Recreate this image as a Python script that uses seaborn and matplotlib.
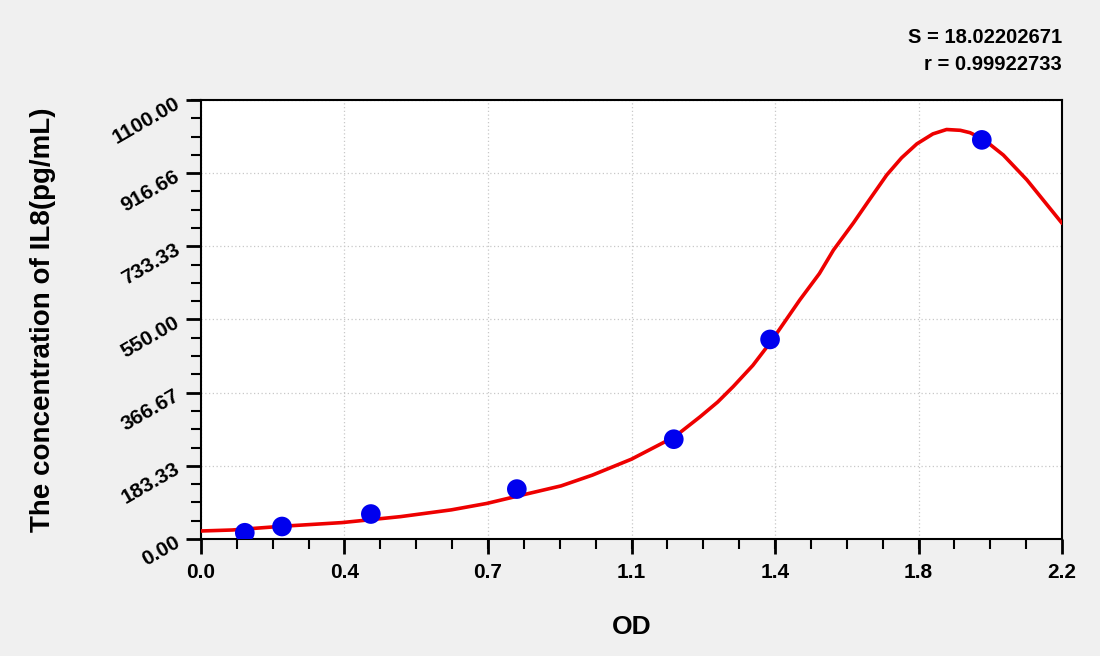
import pandas as pd
import matplotlib
matplotlib.use('Agg')
import matplotlib.pyplot as plt
from matplotlib.ticker import AutoMinorLocator
import seaborn as sns

# Standard points
od = [0.112, 0.207, 0.434, 0.807, 1.208, 1.454, 1.995]
conc = [15.6, 31.25, 62.5, 125.0, 250.0, 500.0, 1000.0]

# fitted curve
curve_od = [0.0, 0.08, 0.21, 0.36, 0.51, 0.64, 0.73, 0.82, 0.92, 1.0, 1.1,
            1.21, 1.275, 1.32, 1.36, 1.41, 1.456, 1.53, 1.58, 1.616, 1.667,
            1.705, 1.752, 1.79, 1.829, 1.87, 1.905, 1.94, 1.965, 2.0, 2.05,
            2.11, 2.2]
curve_conc = [20, 22.5, 32, 41, 56, 73, 89, 110, 133, 160, 200,
              256, 306, 343, 382, 435, 494, 599, 665, 724, 792,
              846, 912, 955, 990, 1015, 1026, 1024, 1018, 1001, 962,
              900, 791]

x_ticks = [0.0, 0.3667, 0.7333, 1.1, 1.4667, 1.8333, 2.2]
x_labels = ['0.0', '0.4', '0.7', '1.1', '1.4', '1.8', '2.2']
y_ticks = [0.0, 183.33, 366.67, 550.0, 733.33, 916.66, 1100.0]
y_labels = ['0.00', '183.33', '366.67', '550.00', '733.33', '916.66', '1100.00']

s_text = 'S = 18.02202671'
r_text = 'r = 0.99922733'

sns.set_style('white')
plt.rcParams['font.family'] = ['Liberation Sans', 'DejaVu Sans']
plt.rcParams['font.weight'] = 'bold'
plt.rcParams['text.color'] = 'black'
plt.rcParams['axes.labelcolor'] = 'black'
plt.rcParams['xtick.color'] = 'black'
plt.rcParams['ytick.color'] = 'black'

df = pd.DataFrame({'OD': od, 'conc': conc})
fit = pd.DataFrame({'OD': curve_od, 'conc': curve_conc})

fig = plt.figure(figsize=(11, 6.56), dpi=100, facecolor='#f0f0f0')
ax = fig.add_axes([0.1827, 0.1784, 0.7828, 0.6692])
ax.set_facecolor('white')

sns.lineplot(data=fit, x='OD', y='conc', ax=ax, color='#ee0000', lw=2.6,
             sort=False, estimator=None, zorder=3)
sns.scatterplot(data=df, x='OD', y='conc', ax=ax, color='#0000ee', s=200,
                edgecolor='none', zorder=4)

ax.set_xlim(0, 2.2)
ax.set_ylim(0, 1100)
ax.set_xticks(x_ticks)
ax.set_xticklabels(x_labels, fontsize=15, fontweight='bold')
ax.set_yticks(y_ticks)
ax.set_yticklabels(y_labels, fontsize=15, fontweight='bold', rotation=30,
                   ha='right', rotation_mode='anchor')
ax.xaxis.set_minor_locator(AutoMinorLocator(4))
ax.yaxis.set_minor_locator(AutoMinorLocator(4))
ax.tick_params(which='major', direction='out', length=11, width=2, color='black',
               bottom=True, left=True, pad=6)
ax.tick_params(which='minor', direction='out', length=7, width=1.5, color='black',
               bottom=True, left=True)
ax.grid(True, which='major', color='#c8c8c8', linestyle=(0, (1, 2)), lw=0.9)

for sp in ax.spines.values():
    sp.set_color('black')
    sp.set_linewidth(1.5)

ax.set_xlabel('OD', fontsize=19, fontweight='bold', labelpad=24)
ax.set_ylabel('The concentration of IL8(pg/mL)', fontsize=20, fontweight='bold', labelpad=38)

fig.text(0.9655, 0.943, s_text, ha='right', va='center', fontsize=14.5, fontweight='bold')
fig.text(0.9655, 0.902, r_text, ha='right', va='center', fontsize=14.5, fontweight='bold')

fig.savefig('out.png', dpi=100, facecolor=fig.get_facecolor())
